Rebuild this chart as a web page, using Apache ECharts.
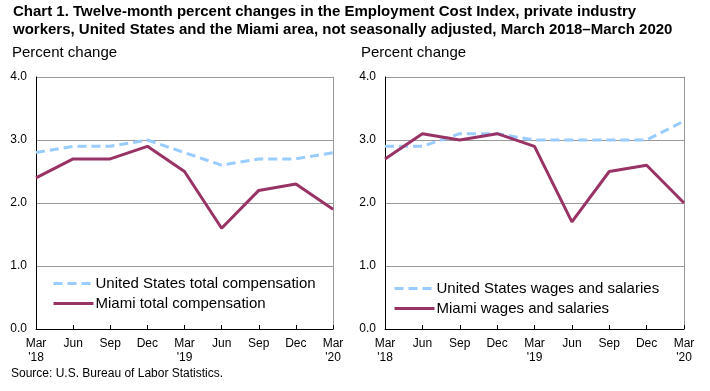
<!DOCTYPE html>
<html><head><meta charset="utf-8">
<script src="https://cdn.jsdelivr.net/npm/echarts@6/dist/echarts.min.js"></script>
<style>html,body{margin:0;padding:0;background:#fff}#c{width:710px;height:391px}</style>
</head><body><div id="c"></div>
<script>
const categories = ["Mar\n'18","Jun","Sep","Dec","Mar\n'19","Jun","Sep","Dec","Mar\n'20"];
const usTotalComp = [2.8, 2.9, 2.9, 3.0, 2.8, 2.6, 2.7, 2.7, 2.8];
const miamiTotalComp = [2.4, 2.7, 2.7, 2.9, 2.5, 1.6, 2.2, 2.3, 1.9];
const usWages = [2.9, 2.9, 3.1, 3.1, 3.0, 3.0, 3.0, 3.0, 3.3];
const miamiWages = [2.7, 3.1, 3.0, 3.1, 2.9, 1.7, 2.5, 2.6, 2.0];
const yTicks = [0, 1, 2, 3, 4];

const FONT = 'Liberation Sans, Arial, sans-serif';
const US_COLOR = '#99ccff';
const MIAMI_COLOR = '#993366';

function xAxis(gi) {
  return {
    type: 'category', gridIndex: gi, data: categories, boundaryGap: false,
    axisLine: {lineStyle: {color: '#000', width: 1}},
    axisTick: {inside: true, length: 4, lineStyle: {color: '#000'}},
    axisLabel: {color: '#000', fontFamily: FONT, fontSize: 12, margin: 8, lineHeight: 14, interval: 0},
    splitLine: {show: false}
  };
}
function yAxis(gi) {
  return {
    type: 'value', gridIndex: gi, min: yTicks[0], max: yTicks[yTicks.length-1], interval: 1,
    axisLine: {show: true, lineStyle: {color: '#000'}},
    axisTick: {show: false},
    axisLabel: {color: '#000', fontFamily: FONT, fontSize: 12, margin: 9, formatter: v => v.toFixed(1)},
    splitLine: {show: true, lineStyle: {color: '#999', width: 1}}
  };
}
function yRight(gi) {
  return {
    type: 'value', gridIndex: gi, position: 'right', min: 0, max: 4, interval: 1,
    axisLine: {show: true, lineStyle: {color: '#999'}},
    axisTick: {show: false}, axisLabel: {show: false}, splitLine: {show: false}
  };
}
function line(name, data, gi, color, dashed) {
  return {
    name, type: 'line', xAxisIndex: gi, yAxisIndex: gi * 2, data, symbol: 'none',
    lineStyle: {color, width: 3, type: dashed ? [9, 5] : 'solid'},
    itemStyle: {color}, z: dashed ? 2 : 3, animation: false
  };
}
function legend(names, left, top) {
  return {data: names, orient: 'vertical', left, top, padding: 0,
    itemWidth: 40, itemHeight: 14, itemGap: 5,
    lineStyle: {width: 3},
    itemStyle: {opacity: 0},
    textStyle: {fontFamily: FONT, fontSize: 15, color: '#000', padding: [0,0,0,-3]}};
}

const chart = echarts.init(document.getElementById('c'));
chart.setOption({
  animation: false,
  backgroundColor: '#fff',
  title: [
    {text: 'Chart 1. Twelve-month percent changes in the Employment Cost Index, private industry\nworkers, United States and the Miami area, not seasonally adjusted, March 2018–March 2020',
     left: 13, top: 3, padding: 0,
     textStyle: {fontFamily: FONT, fontSize: 15, fontWeight: 'bold', color: '#000', lineHeight: 18}},
    {text: 'Percent change', left: 12, top: 45, padding: 0, textStyle: {fontFamily: FONT, fontSize: 15, fontWeight: 'normal', color: '#000'}},
    {text: 'Percent change', left: 361, top: 45, padding: 0, textStyle: {fontFamily: FONT, fontSize: 15, fontWeight: 'normal', color: '#000'}},
    {text: 'Source: U.S. Bureau of Labor Statistics.', left: 11, top: 368, padding: 0, textStyle: {fontFamily: FONT, fontSize: 12, fontWeight: 'normal', color: '#000'}}
  ],
  grid: [
    {left: 36, right: 377, top: 77, bottom: 62},
    {left: 385, right: 26, top: 77, bottom: 62}
  ],
  xAxis: [xAxis(0), xAxis(1)],
  yAxis: [yAxis(0), yRight(0), yAxis(1), yRight(1)],
  legend: [
    legend(['United States total compensation', 'Miami total compensation'], 52, 276),
    legend(['United States wages and salaries', 'Miami wages and salaries'], 393, 281)
  ],
  series: [
    line('United States total compensation', usTotalComp, 0, US_COLOR, true),
    line('Miami total compensation', miamiTotalComp, 0, MIAMI_COLOR, false),
    line('United States wages and salaries', usWages, 1, US_COLOR, true),
    line('Miami wages and salaries', miamiWages, 1, MIAMI_COLOR, false)
  ]
});
</script></body></html>
